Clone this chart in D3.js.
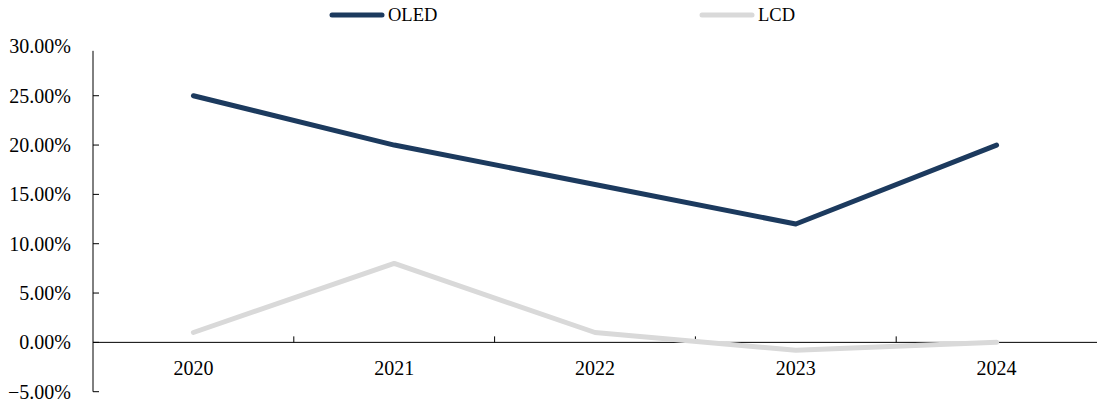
<!DOCTYPE html>
<html><head><meta charset="utf-8">
<script src="https://cdn.jsdelivr.net/npm/d3@7"></script>
<style>body{margin:0;background:#fff}svg{display:block}</style>
</head><body><svg id="c" width="1099" height="402"></svg>
<script>
const categories = ["2020","2021","2022","2023","2024"];
const oled = [25, 20, 16, 12, 20];
const lcd = [1, 8, 1, -0.8, 0];
const yTicks = [-5, 0, 5, 10, 15, 20, 25, 30];
const seriesNames = ["OLED","LCD"];
const colors = ["#1c3a5e","#d9d9d9"];

const svg = d3.select("#c");
const font = "'Liberation Serif','Times New Roman',serif";
const x0 = 93, x1 = 1097;
const x = d3.scaleBand().domain(categories).range([x0, x1]);
const y = d3.scaleLinear().domain([-5, 30]).range([391.7, 46.4]);

// y axis
svg.append("line").attr("x1", x0).attr("x2", x0).attr("y1", y(29.55)).attr("y2", y(-5))
  .attr("stroke", "#000").attr("stroke-width", 1);
yTicks.filter(t => t < 30).forEach(t => {
  svg.append("line").attr("x1", x0).attr("x2", x0 + 6).attr("y1", y(t)).attr("y2", y(t))
    .attr("stroke", "#000").attr("stroke-width", 1);
});
yTicks.forEach(t => {
  svg.append("text").attr("x", 71).attr("y", y(t)).attr("dy", "0.35em")
    .attr("text-anchor", "end").attr("font-family", font).attr("font-size", 20)
    .attr("fill", "#000").text(d3.format(".2f")(t) + "%");
});

// x axis at zero
svg.append("line").attr("x1", x0).attr("x2", x1).attr("y1", y(0)).attr("y2", y(0))
  .attr("stroke", "#000").attr("stroke-width", 1);
categories.slice(1).forEach(c => {
  const xx = x(c);
  svg.append("line").attr("x1", xx).attr("x2", xx).attr("y1", y(0)).attr("y2", y(0) - 6)
    .attr("stroke", "#000").attr("stroke-width", 1);
});
categories.forEach(c => {
  svg.append("text").attr("x", x(c) + x.bandwidth() / 2).attr("y", 375)
    .attr("text-anchor", "middle").attr("font-family", font).attr("font-size", 20)
    .attr("fill", "#000").text(c);
});

const line = d3.line().x((d, i) => x(categories[i]) + x.bandwidth() / 2).y(d => y(d));
[oled, lcd].forEach((s, k) => {
  svg.append("path").attr("d", line(s)).attr("fill", "none")
    .attr("stroke", colors[k]).attr("stroke-width", 5)
    .attr("stroke-linecap", "round").attr("stroke-linejoin", "round");
});

// legend
const leg = [{x: 332, t: 388}, {x: 702, t: 758}];
seriesNames.forEach((n, k) => {
  svg.append("line").attr("x1", leg[k].x).attr("x2", leg[k].x + 50).attr("y1", 15).attr("y2", 15)
    .attr("stroke", colors[k]).attr("stroke-width", 5).attr("stroke-linecap", "round");
  svg.append("text").attr("x", leg[k].t).attr("y", 15).attr("dy", "0.35em")
    .attr("font-family", font).attr("font-size", 18.5).attr("fill", "#000").text(n);
});
</script></body></html>
